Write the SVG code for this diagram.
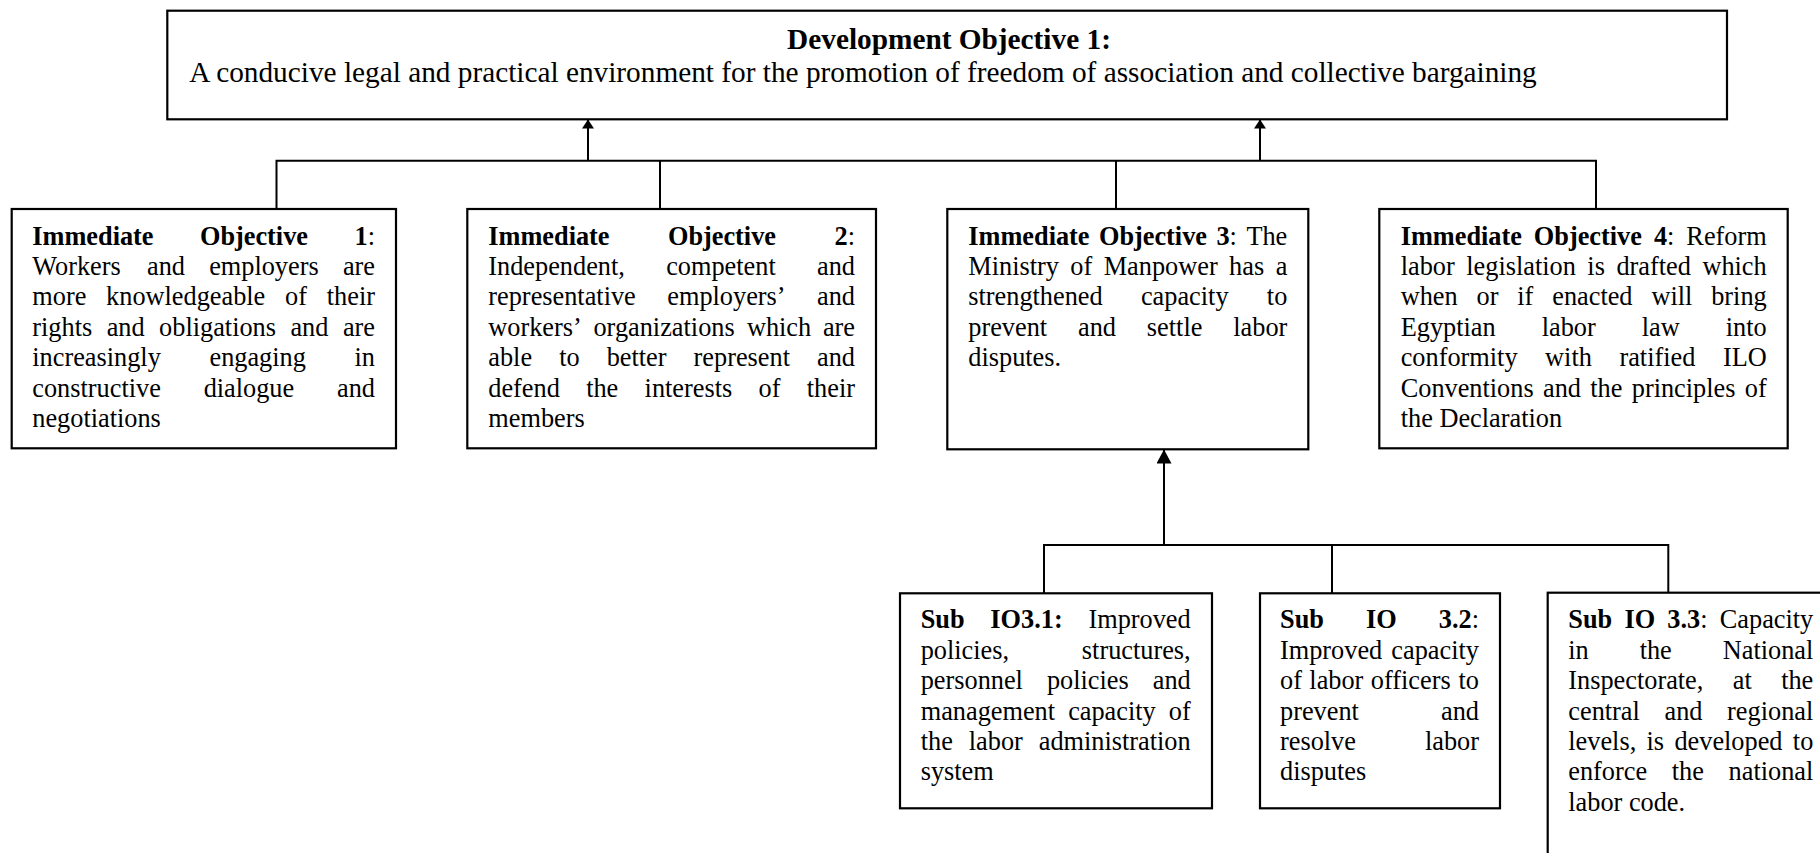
<svg xmlns="http://www.w3.org/2000/svg" width="1820" height="853" viewBox="0 0 1820 853">
<style>
.box{fill:#fff;stroke:#000;stroke-width:2.2}
.ln{fill:none;stroke:#000;stroke-width:2}
text{font-family:"Liberation Serif","Times New Roman",serif;fill:#000}
.t{font-size:26.3px}
.m{font-size:29.3px}
.b{font-weight:bold}
</style>
<defs>
<marker id="ah" viewBox="0 0 10 10" refX="10" refY="5" markerWidth="9" markerHeight="12" markerUnits="userSpaceOnUse" orient="auto" preserveAspectRatio="none"><path d="M0,0 L10,5 L0,10 z" fill="#000"/></marker>
<marker id="ahL" viewBox="0 0 10 10" refX="10" refY="5" markerWidth="14" markerHeight="15" markerUnits="userSpaceOnUse" orient="auto" preserveAspectRatio="none"><path d="M0,0 L10,5 L0,10 z" fill="#000"/></marker>
</defs>
<rect width="1820" height="853" fill="#fff"/>

<g id="connectors">
<path class="ln" d="M276.5,209 V160.7 H1596 V209"/>
<path class="ln" d="M660,160.7 V209"/>
<path class="ln" d="M1116,160.7 V209"/>
<line class="ln" x1="588" y1="160.7" x2="588" y2="119.5" marker-end="url(#ah)"/>
<line class="ln" x1="1260" y1="160.7" x2="1260" y2="119.5" marker-end="url(#ah)"/>
<path class="ln" d="M1044,593 V545 H1668.3 V593"/>
<path class="ln" d="M1332,545 V593"/>
<line class="ln" x1="1164" y1="545" x2="1164" y2="449.5" marker-end="url(#ahL)"/>
</g>

<g id="dev-objective">
<rect class="box" x="167.3" y="10.7" width="1559.7" height="108.6"/>
<text class="m b" x="949" y="49" text-anchor="middle">Development Objective 1:</text>
<text class="m" x="189.3" y="82">A conducive legal and practical environment for the promotion of freedom of association and collective bargaining</text>
</g>

<g id="io1">
<rect class="box" x="11.7" y="209" width="384.3" height="239.3"/>
<text class="t">
<tspan class="b" x="32.3" y="244.5">Immediate</tspan><tspan class="b" x="199.95">Objective</tspan><tspan x="354.5"><tspan class="b">1</tspan>:</tspan>
<tspan x="32.3" y="274.9">Workers</tspan><tspan x="147.01">and</tspan><tspan x="209.15">employers</tspan><tspan x="342.88">are</tspan>
<tspan x="32.3" y="305.3">more</tspan><tspan x="106.12">knowledgeable</tspan><tspan x="285.11">of</tspan><tspan x="326.79">their</tspan>
<tspan x="32.3" y="335.7">rights</tspan><tspan x="106.67">and</tspan><tspan x="159.1">obligations</tspan><tspan x="290.46">and</tspan><tspan x="342.9">are</tspan>
<tspan x="32.3" y="366.1">increasingly</tspan><tspan x="209.49">engaging</tspan><tspan x="354.55">in</tspan>
<tspan x="32.3" y="396.5">constructive</tspan><tspan x="203.65">dialogue</tspan><tspan x="337.03">and</tspan>
<tspan x="32.3" y="426.9">negotiations</tspan>
</text>
</g>

<g id="io2">
<rect class="box" x="467.3" y="209" width="408.7" height="239.3"/>
<text class="t">
<tspan class="b" x="488.3" y="244.5">Immediate</tspan><tspan class="b" x="667.95">Objective</tspan><tspan x="834.5"><tspan class="b">2</tspan>:</tspan>
<tspan x="488.3" y="274.9">Independent,</tspan><tspan x="666.17">competent</tspan><tspan x="817.03">and</tspan>
<tspan x="488.3" y="305.3">representative</tspan><tspan x="667.26">employers’</tspan><tspan x="817.02">and</tspan>
<tspan x="488.3" y="335.7">workers’</tspan><tspan x="593.47">organizations</tspan><tspan x="746.9">which</tspan><tspan x="822.88">are</tspan>
<tspan x="488.3" y="366.1">able</tspan><tspan x="559.16">to</tspan><tspan x="606.66">better</tspan><tspan x="693.59">represent</tspan><tspan x="817.02">and</tspan>
<tspan x="488.3" y="396.5">defend</tspan><tspan x="586.16">the</tspan><tspan x="644.6">interests</tspan><tspan x="758.56">of</tspan><tspan x="806.77">their</tspan>
<tspan x="488.3" y="426.9">members</tspan>
</text>
</g>

<g id="io3">
<rect class="box" x="947.3" y="209" width="361" height="240.3"/>
<text class="t">
<tspan class="b" x="968.3" y="244.5">Immediate</tspan><tspan class="b" x="1098.93">Objective</tspan><tspan x="1216.46"><tspan class="b">3</tspan>:</tspan><tspan x="1246.39">The</tspan>
<tspan x="968.3" y="274.9">Ministry</tspan><tspan x="1070.36">of</tspan><tspan x="1103.73">Manpower</tspan><tspan x="1229.12">has</tspan><tspan x="1275.64">a</tspan>
<tspan x="968.3" y="305.3">strengthened</tspan><tspan x="1140.95">capacity</tspan><tspan x="1266.84">to</tspan>
<tspan x="968.3" y="335.7">prevent</tspan><tspan x="1078.03">and</tspan><tspan x="1146.87">settle</tspan><tspan x="1233.25">labor</tspan>
<tspan x="968.3" y="366.1">disputes.</tspan>
</text>
</g>

<g id="io4">
<rect class="box" x="1379.3" y="209" width="408.4" height="239.3"/>
<text class="t">
<tspan class="b" x="1400.7" y="244.5">Immediate</tspan><tspan class="b" x="1533.85">Objective</tspan><tspan x="1653.9"><tspan class="b">4</tspan>:</tspan><tspan x="1686.35">Reform</tspan>
<tspan x="1400.7" y="274.9">labor</tspan><tspan x="1466.27">legislation</tspan><tspan x="1587.37">is</tspan><tspan x="1616.43">drafted</tspan><tspan x="1702.42">which</tspan>
<tspan x="1400.7" y="305.3">when</tspan><tspan x="1476.53">or</tspan><tspan x="1517.3">if</tspan><tspan x="1552.23">enacted</tspan><tspan x="1651.41">will</tspan><tspan x="1711.19">bring</tspan>
<tspan x="1400.7" y="335.7">Egyptian</tspan><tspan x="1541.7">labor</tspan><tspan x="1641.78">law</tspan><tspan x="1725.79">into</tspan>
<tspan x="1400.7" y="366.1">conformity</tspan><tspan x="1545.11">with</tspan><tspan x="1619.4">ratified</tspan><tspan x="1722.88">ILO</tspan>
<tspan x="1400.7" y="396.5">Conventions</tspan><tspan x="1542.99">and</tspan><tspan x="1590.29">the</tspan><tspan x="1631.75">principles</tspan><tspan x="1744.8">of</tspan>
<tspan x="1400.7" y="426.9">the Declaration</tspan>
</text>
</g>

<g id="sub31">
<rect class="box" x="900" y="593.3" width="312" height="215"/>
<text class="t">
<tspan class="b" x="920.7" y="628.3">Sub</tspan><tspan class="b" x="990.35">IO3.1:</tspan><tspan x="1088.46">Improved</tspan>
<tspan x="920.7" y="658.7">policies,</tspan><tspan x="1081.87">structures,</tspan>
<tspan x="920.7" y="689.1">personnel</tspan><tspan x="1046.93">policies</tspan><tspan x="1152.73">and</tspan>
<tspan x="920.7" y="719.5">management</tspan><tspan x="1068.13">capacity</tspan><tspan x="1168.8">of</tspan>
<tspan x="920.7" y="749.9">the</tspan><tspan x="968.77">labor</tspan><tspan x="1038.75">administration</tspan>
<tspan x="920.7" y="780.3">system</tspan>
</text>
</g>

<g id="sub32">
<rect class="box" x="1260" y="593.3" width="240" height="215"/>
<text class="t">
<tspan class="b" x="1280" y="628.3">Sub</tspan><tspan class="b" x="1366">IO</tspan><tspan x="1438.82"><tspan class="b">3.2</tspan>:</tspan>
<tspan x="1280" y="658.7">Improved</tspan><tspan x="1391.37">capacity</tspan>
<tspan x="1280" y="689.1">of</tspan><tspan x="1309.33">labor</tspan><tspan x="1370.8">officers</tspan><tspan x="1458.54">to</tspan>
<tspan x="1280" y="719.5">prevent</tspan><tspan x="1441.02">and</tspan>
<tspan x="1280" y="749.9">resolve</tspan><tspan x="1424.95">labor</tspan>
<tspan x="1280" y="780.3">disputes</tspan>
</text>
</g>

<g id="sub33">
<rect class="box" x="1547.7" y="592.7" width="320" height="320"/>
<text class="t">
<tspan class="b" x="1568.3" y="628.3">Sub</tspan><tspan class="b" x="1624.42">IO</tspan><tspan x="1667.36"><tspan class="b">3.3</tspan>:</tspan><tspan x="1719.8">Capacity</tspan>
<tspan x="1568.3" y="658.7">in</tspan><tspan x="1639.67">the</tspan><tspan x="1722.72">National</tspan>
<tspan x="1568.3" y="689.1">Inspectorate,</tspan><tspan x="1732.79">at</tspan><tspan x="1781.17">the</tspan>
<tspan x="1568.3" y="719.5">central</tspan><tspan x="1664.5">and</tspan><tspan x="1727.12">regional</tspan>
<tspan x="1568.3" y="749.9">levels,</tspan><tspan x="1646.56">is</tspan><tspan x="1674.43">developed</tspan><tspan x="1792.85">to</tspan>
<tspan x="1568.3" y="780.3">enforce</tspan><tspan x="1671.79">the</tspan><tspan x="1728.57">national</tspan>
<tspan x="1568.3" y="810.7">labor code.</tspan>
</text>
</g>
</svg>
